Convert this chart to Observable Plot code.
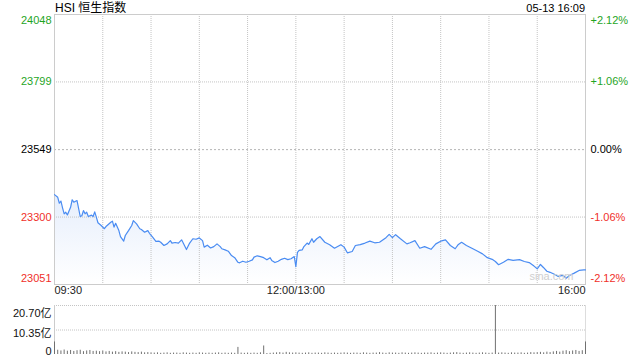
<!DOCTYPE html>
<html><head><meta charset="utf-8">
<script src="https://cdn.jsdelivr.net/npm/d3@7"></script>
<script src="https://cdn.jsdelivr.net/npm/@observablehq/plot@0.6"></script>
<style>
body{margin:0;background:#fff;}
#wrap{position:relative;width:640px;height:360px;overflow:hidden;font-family:"Liberation Sans",Arial,"Noto Sans CJK SC",sans-serif;background:#fff;}
#title{position:absolute;left:55px;top:0;font-size:12px;line-height:16px;color:#000;font-family:"Liberation Sans",Arial,"Noto Sans CJK SC",sans-serif;}
#stamp{position:absolute;right:55px;top:0;font-size:11px;line-height:16px;color:#000;}
#main{position:absolute;left:0;top:0;}
#vol{position:absolute;left:0;top:300px;}
</style></head>
<body>
<div id="wrap">
  <div id="main"></div>
  <div id="vol"></div>
  <div id="title">HSI 恒生指数</div>
  <div id="stamp">05-13 16:09</div>
</div>
<script>
// ---- data ----
const prevClose = 23549;
const priceTicks = [24048, 23799, 23549, 23300, 23051];
const pctLabels = ["+2.12%", "+1.06%", "0.00%", "-1.06%", "-2.12%"];
const timeTickMinutes = [0, 150, 330];
const timeTickLabels = ["09:30", "12:00/13:00", "16:00"];
const gridMinutes = [30, 60, 90, 120, 150, 180, 210, 240, 270, 300];

// trading minutes since 09:30 (lunch break removed: 150 = 12:00/13:00)
const minutes = [
  0,2,3,4,5,6,7,8,10,11,
  12,14,15,16,17,18,19,20,21,23,
  24,25,26,27,29,31,32,35,36,37,
  38,40,41,43,44,46,48,49,51,53,
  54,56,58,59,61,63,65,66,68,70,
  72,73,75,77,79,80,82,84,86,88,
  90,92,93,95,97,99,101,103,104,106,
  108,110,112,114,115,117,119,121,123,124,
  126,128,130,132,134,135,137,139,141,143,
  145,147,149,150,151,152,154,155,157,158,
  160,161,163,165,168,171,174,178,180,182,
  185,187,190,193,196,199,202,206,208,210,
  212,215,219,221,224,227,230,234,237,240,
  243,246,249,251,253,256,260,263,266,269,
  272,274,276,279,282,285,289,292,295,298,
  300,302,304,306,308,311,313,316,318,320,
  323,326,329,330
];
const prices = [
  23383,23373,23351,23359,23334,23312,23318,23308,23336,23364,
  23355,23361,23331,23302,23305,23324,23312,23318,23302,23307,
  23302,23319,23300,23279,23269,23257,23265,23281,23285,23263,
  23277,23250,23228,23211,23232,23250,23269,23287,23275,23257,
  23254,23244,23250,23240,23226,23210,23211,23207,23195,23201,
  23213,23204,23206,23204,23216,23204,23180,23204,23220,23218,
  23223,23213,23189,23196,23186,23191,23201,23191,23183,23179,
  23174,23158,23150,23133,23131,23137,23133,23137,23142,23152,
  23157,23154,23150,23142,23150,23140,23132,23137,23144,23148,
  23143,23146,23154,23117,23170,23177,23179,23191,23204,23199,
  23220,23207,23220,23228,23207,23198,23185,23198,23189,23168,
  23173,23195,23198,23204,23211,23205,23207,23224,23236,23224,
  23235,23220,23201,23205,23213,23185,23191,23181,23201,23211,
  23216,23195,23183,23199,23207,23195,23183,23174,23164,23150,
  23144,23136,23124,23133,23144,23140,23143,23136,23132,23119,
  23109,23125,23113,23100,23096,23088,23081,23085,23074,23084,
  23093,23103,23105,23105
];

// volume (亿), one value per 2 trading minutes
const volumeStep = 2;
const volumes = [
  5.3,1.8,1.5,1.9,1.4,1.7,1.3,1.6,1.8,1.2,
  1.5,1.7,1.3,1.4,1.2,1.5,1.1,1.3,1.0,1.2,
  0.9,1.1,1.0,0.8,1.1,0.9,0.8,1.0,0.7,0.8,
  0.7,0.6,0.7,0.5,0.6,0.7,0.5,0.6,0.6,0.5,
  0.7,0.6,0.5,0.6,0.5,0.7,0.6,0.5,0.6,0.5,
  0.6,0.7,0.5,0.6,0.5,0.6,0.5,3.0,0.6,0.5,
  0.6,0.5,0.6,0.5,0.7,3.6,0.4,0.5,0.6,0.7,
  0.8,0.6,0.9,0.7,0.6,0.7,0.6,0.5,0.6,0.7,
  0.5,0.6,0.6,0.5,0.7,0.6,0.5,0.6,0.5,0.6,
  0.7,0.6,0.5,0.6,0.6,0.5,0.7,0.6,0.5,0.6,
  0.6,0.8,0.6,0.5,0.7,0.6,0.6,0.5,0.7,0.6,
  0.5,0.6,0.7,0.6,0.5,0.6,0.6,0.7,0.5,0.6,
  0.7,0.6,0.5,0.6,0.7,0.8,0.6,0.5,0.6,0.7,
  0.6,0.5,0.6,0.7,0.6,0.5,0.6,20.7,0.6,0.7,
  0.6,0.5,0.7,0.6,0.6,0.7,0.5,0.6,0.8,0.7,
  0.8,0.9,0.7,1.0,0.8,1.1,1.3,1.0,1.4,1.6,
  1.2,1.5,1.7,1.3,1.6,5.3
];
const volTicks = [20.70, 10.35, 0];
const volTickLabels = ["20.70亿", "10.35亿", "0"];

// ---- build tables ----
const series = minutes.map((t, i) => ({t, p: prices[i]}));
const tickRows = priceTicks.map((v, i) => ({v, pct: pctLabels[i], i}));
const timeRows = timeTickMinutes.map((t, i) => ({t, label: timeTickLabels[i], i}));
const volRows = volumes.map((v, i) => ({t: i * volumeStep, v}));
const volTickRows = volTicks.map((v, i) => ({v, label: volTickLabels[i], i}));

const GREEN = "#1fa51f", RED = "#f0302a";
const tickColor = d => d.v > prevClose ? GREEN : d.v < prevClose ? RED : "#000";
const font = '"Liberation Sans", Arial, "Noto Sans CJK SC", sans-serif';
const last = priceTicks.length - 1;

const main = Plot.plot({
  width: 640, height: 300,
  marginTop: 14, marginBottom: 16, marginLeft: 54, marginRight: 55,
  style: {fontFamily: font, background: "transparent"},
  x: {domain: [0, 330], axis: null},
  y: {domain: [23051, 24048], axis: null},
  color: {type: "identity"},
  marks: [
    Plot.areaY(series, {x: "t", y1: 23051, y2: "p", fill: "url(#areaGrad)", curve: "linear"}),
    Plot.ruleY([23799, 23300], {stroke: "#c4c4c4", strokeDasharray: "1,1"}),
    Plot.ruleY([prevClose], {stroke: "#b4b4b4", strokeDasharray: "2,2"}),
    Plot.ruleX(gridMinutes, {stroke: "#c4c4c4", strokeDasharray: "1,1"}),
    Plot.frame({stroke: "#cccccc"}),
    Plot.line(series, {x: "t", y: "p", stroke: "#4a8cf2", strokeWidth: 1.2}),
    Plot.text(["sina.com"], {text: d => d, frameAnchor: "bottom-right", dx: -12, dy: -5, textAnchor: "end", fill: "#cfcfcf", fontSize: 11}),
    // left price labels
    Plot.text(tickRows, {filter: d => d.i === 0, y: "v", text: d => String(d.v), frameAnchor: "left", textAnchor: "end", dx: -3, dy: 6, fill: tickColor, fontSize: 11}),
    Plot.text(tickRows, {filter: d => d.i > 0 && d.i < last, y: "v", text: d => String(d.v), frameAnchor: "left", textAnchor: "end", dx: -3, fill: tickColor, fontSize: 11}),
    Plot.text(tickRows, {filter: d => d.i === last, y: "v", text: d => String(d.v), frameAnchor: "left", textAnchor: "end", dx: -3, dy: -6, fill: tickColor, fontSize: 11}),
    // right percent labels
    Plot.text(tickRows, {filter: d => d.i === 0, y: "v", text: "pct", frameAnchor: "right", textAnchor: "start", dx: 5, dy: 6, fill: tickColor, fontSize: 11}),
    Plot.text(tickRows, {filter: d => d.i > 0 && d.i < last, y: "v", text: "pct", frameAnchor: "right", textAnchor: "start", dx: 5, fill: tickColor, fontSize: 11}),
    Plot.text(tickRows, {filter: d => d.i === last, y: "v", text: "pct", frameAnchor: "right", textAnchor: "start", dx: 5, dy: -6, fill: tickColor, fontSize: 11}),
    // time labels
    Plot.text(timeRows, {filter: d => d.i === 0, x: "t", text: "label", frameAnchor: "bottom", textAnchor: "start", dy: 9, fill: "#222", fontSize: 11}),
    Plot.text(timeRows, {filter: d => d.i === 1, x: "t", text: "label", frameAnchor: "bottom", textAnchor: "middle", dy: 9, fill: "#222", fontSize: 11}),
    Plot.text(timeRows, {filter: d => d.i === 2, x: "t", text: "label", frameAnchor: "bottom", textAnchor: "end", dy: 9, fill: "#222", fontSize: 11})
  ]
});

const defs = d3.select(main).insert("defs", ":first-child");
const grad = defs.append("linearGradient").attr("id", "areaGrad")
  .attr("x1", 0).attr("y1", 0).attr("x2", 0).attr("y2", 1);
grad.append("stop").attr("offset", "0%").attr("stop-color", "#e6eefc");
grad.append("stop").attr("offset", "100%").attr("stop-color", "#ffffff");
document.getElementById("main").appendChild(main);

const vol = Plot.plot({
  width: 640, height: 60,
  marginTop: 5, marginBottom: 6, marginLeft: 54, marginRight: 55,
  style: {fontFamily: font, background: "transparent"},
  x: {domain: [0, 330], axis: null},
  y: {domain: [0, 20.70], axis: null},
  marks: [
    Plot.ruleY([20.70, 10.35], {stroke: "#c4c4c4", strokeDasharray: "1,1"}),
    Plot.ruleX([0], {stroke: "#cccccc"}),
    Plot.ruleX([330], {stroke: "#dddddd"}),
    Plot.ruleX(volRows, {x: "t", y1: 0, y2: "v", stroke: "#707070", strokeWidth: 1}),
    Plot.text(volTickRows, {filter: d => d.i === 0, y: "v", text: "label", frameAnchor: "left", textAnchor: "end", dx: -3, dy: 8, fill: "#111", fontSize: 11}),
    Plot.text(volTickRows, {filter: d => d.i === 1, y: "v", text: "label", frameAnchor: "left", textAnchor: "end", dx: -3, dy: 3, fill: "#111", fontSize: 11}),
    Plot.text(volTickRows, {filter: d => d.i === 2, y: "v", text: "label", frameAnchor: "left", textAnchor: "end", dx: -3, dy: -3, fill: "#111", fontSize: 11})
  ]
});
document.getElementById("vol").appendChild(vol);
</script>
</body></html>
